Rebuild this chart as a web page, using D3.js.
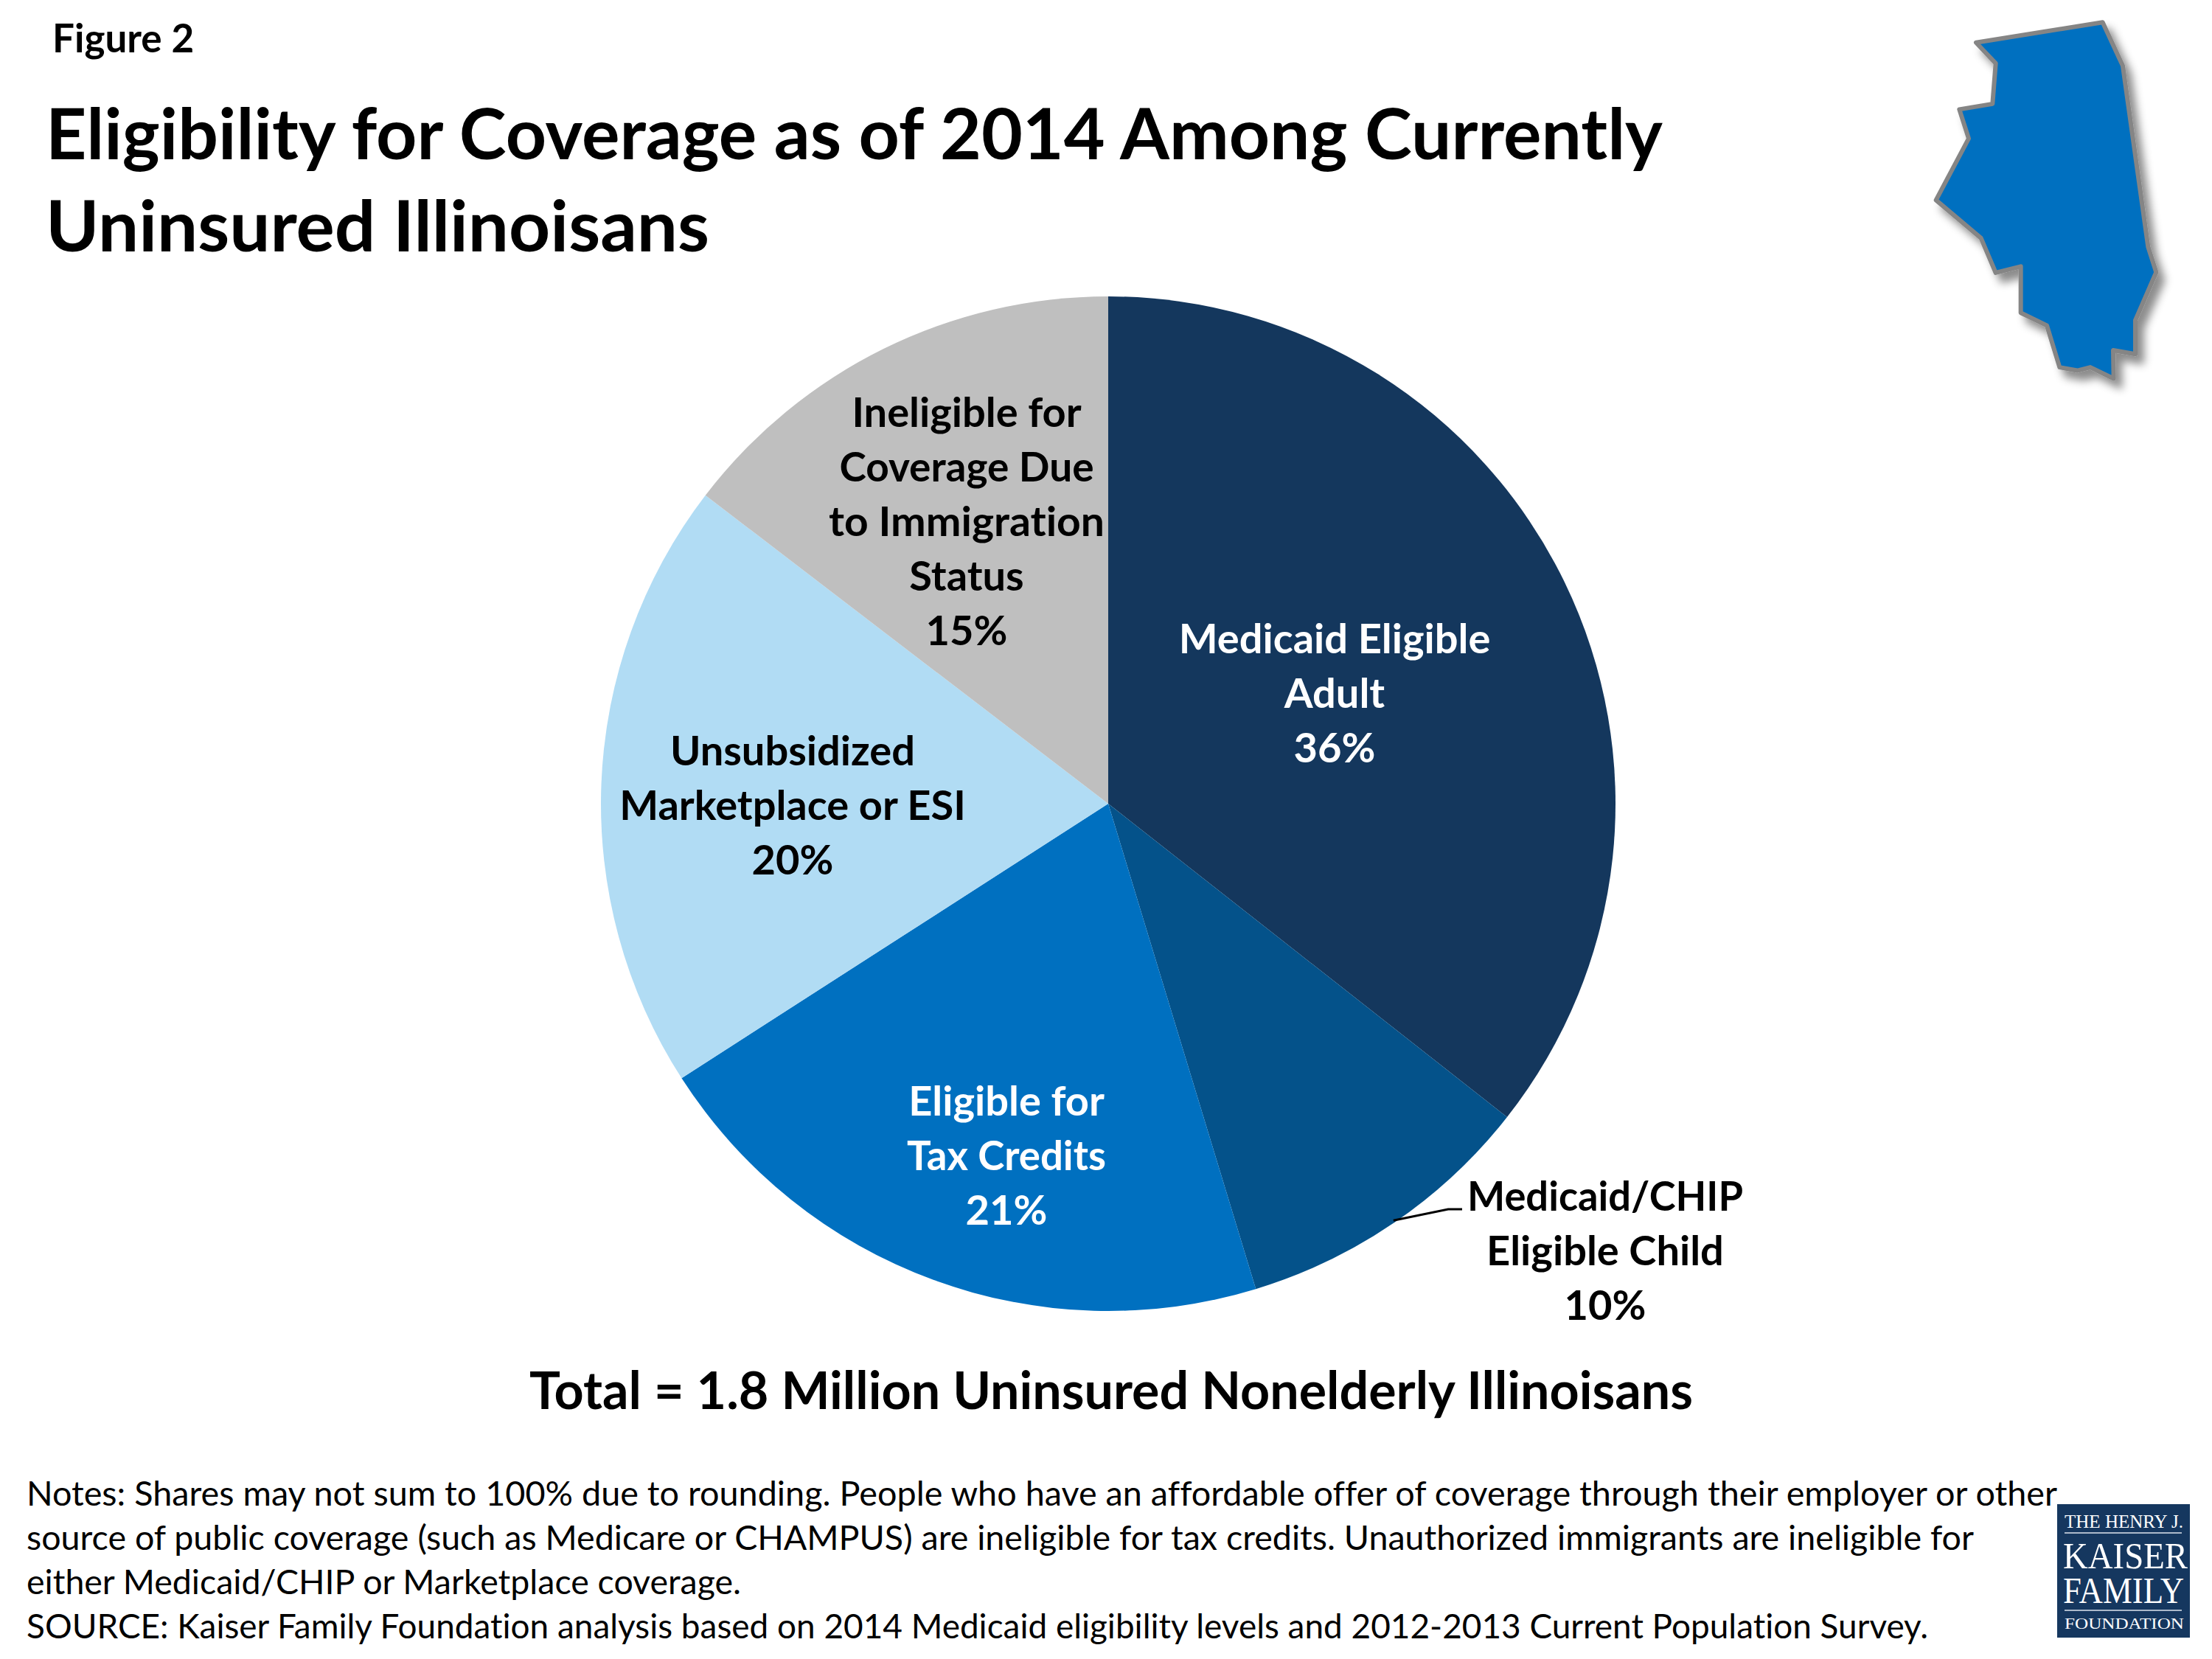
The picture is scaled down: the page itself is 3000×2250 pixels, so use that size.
<!DOCTYPE html>
<html>
<head>
<meta charset="utf-8">
<script src="https://cdn.jsdelivr.net/npm/d3@7"></script>
<style>
  html, body { margin: 0; padding: 0; background: #fff; }
  svg { display: block; }
  text { font-family: Lato, Carlito, sans-serif; fill: #000; font-variant-ligatures: none; }
</style>
</head>
<body>
<div id="chart"></div>
<script>
const categories = [
    "Medicaid Eligible Adult", "Medicaid/CHIP Eligible Child", "Eligible for Tax Credits",
    "Unsubsidized Marketplace or ESI", "Ineligible for Coverage Due to Immigration Status"
];
// the labels show them rounded
const shares = [35.6, 9.7, 20.6, 19.5, 14.6];
const sliceColors = ["#14375d", "#04528a", "#0070c0", "#b1dcf4", "#bfbfbf"];

// label lines as they wrap in the slide, one list per slice
const labelLines = [
    ["Medicaid Eligible", "Adult"],
    ["Medicaid/CHIP", "Eligible Child"],
    ["Eligible for", "Tax Credits"],
    ["Unsubsidized", "Marketplace or ESI"],
    ["Ineligible for", "Coverage Due", "to Immigration", "Status"]
];
const labelX = [1810, 2177, 1365, 1075, 1311];
const labelY = [886, 1642, 1513, 1038, 579];
const labelFill = ["#fff", "#000", "#fff", "#000", "#000"];
// Lato runs a little wide or narrow on these, fit them to the slide
const lineFit = { "Medicaid/CHIP": 374, "Tax Credits": 270, "Coverage Due": 345, "to Immigration": 374 };

const titleLines = ["Eligibility for Coverage as of 2014 Among Currently", "Uninsured Illinoisans"];
const titleWidths = [2193, 900];
const totalText = "Total = 1.8 Million Uninsured Nonelderly Illinoisans";
const noteLines = [
    "Notes: Shares may not sum to 100% due to rounding. People who have an affordable offer of coverage through their employer or other",
    "source of public coverage (such as Medicare or CHAMPUS) are ineligible for tax credits. Unauthorized immigrants are ineligible for",
    "either Medicaid/CHIP or Marketplace coverage.",
    "SOURCE: Kaiser Family Foundation analysis based on 2014 Medicaid eligibility levels and 2012-2013 Current Population Survey."
];
const noteWidths = [2754, 2641, 969, 2579];

// state outline, in the pixels of a crop of the top right corner
const stateOutline = [
    [300, 168], [815, 88], [897, 260], [1000, 975], [1033, 1075], [948, 1265], [948, 1398],
    [858, 1383], [860, 1495], [765, 1450], [712, 1463], [640, 1450], [588, 1285], [482, 1235],
    [482, 1052], [380, 1077], [320, 940], [137, 790], [270, 547], [232, 432], [367, 410], [380, 250]
];

const width = 3000, height = 2250;
const cx = 1503, cy = 1090, radius = 688;

const svg = d3.select("#chart").append("svg")
    .attr("width", width)
    .attr("height", height)
    .attr("viewBox", `0 0 ${width} ${height}`);

const defs = svg.append("defs");
const shadow = defs.append("filter").attr("id", "state-shadow")
    .attr("x", "-20%").attr("y", "-20%").attr("width", "140%").attr("height", "140%");
shadow.append("feDropShadow")
    .attr("dx", 9).attr("dy", 11).attr("stdDeviation", 6)
    .attr("flood-color", "#000").attr("flood-opacity", 0.45);

svg.append("rect").attr("width", width).attr("height", height).attr("fill", "#fff");

// headings
svg.append("text").attr("x", 71).attr("y", 71)
    .attr("font-size", 53).attr("font-weight", 700).text("Figure 2");

svg.append("g").selectAll("text")
    .data(titleLines)
    .enter()
    .append("text")
    .attr("x", 62)
    .attr("y", (d, i) => 216 + i * 125)
    .attr("font-size", 96)
    .attr("font-weight", 700)
    .attr("textLength", (d, i) => titleWidths[i])
    .attr("lengthAdjust", "spacingAndGlyphs")
    .text(d => d);

// pie
const pie = d3.pie().sort(null).value(d => d)(shares);
const arc = d3.arc().innerRadius(0).outerRadius(radius);
const plot = svg.append("g").attr("transform", `translate(${cx},${cy})`);

plot.selectAll("path")
    .data(pie)
    .enter()
    .append("path")
    .attr("d", arc)
    .attr("data-category", (d, i) => categories[i])
    .attr("fill", (d, i) => sliceColors[i]);

// leader for the child slice, starts on the rim
const rim = d3.arc().innerRadius(radius - 3).outerRadius(radius - 3).centroid(pie[1]);
const leader = d3.line()([
    [cx + rim[0], cy + rim[1]],
    [1964, 1640],
    [1983, 1640]
]);
svg.append("path").attr("d", leader)
    .attr("fill", "none").attr("stroke", "#000").attr("stroke-width", 3);

// slice labels
const labels = svg.append("g").selectAll("text")
    .data(labelLines)
    .enter()
    .append("text")
    .attr("text-anchor", "middle")
    .attr("font-size", 56)
    .attr("font-weight", 700)
    .style("fill", (d, i) => labelFill[i]);

labels.each(function (lines, i) {
    const rows = lines.concat(`${Math.round(shares[i])}%`);
    d3.select(this).selectAll("tspan")
        .data(rows)
        .enter()
        .append("tspan")
        .attr("x", labelX[i])
        .attr("y", (d, j) => labelY[i] + j * 74)
        .attr("textLength", d => lineFit[d] || null)
        .attr("lengthAdjust", d => lineFit[d] ? "spacingAndGlyphs" : null)
        .text(d => d);
});

// total line
svg.append("text").attr("x", 1507).attr("y", 1911)
    .attr("text-anchor", "middle")
    .attr("font-size", 70)
    .attr("font-weight", 700)
    .text(totalText);

// notes
svg.append("g").selectAll("text")
    .data(noteLines)
    .enter()
    .append("text")
    .attr("x", 36)
    .attr("y", (d, i) => 2042 + i * 60)
    .attr("font-size", 46.6)
    .attr("textLength", (d, i) => noteWidths[i])
    .attr("lengthAdjust", "spacingAndGlyphs")
    .text(d => d);

// state shape, top right
const stateX = d3.scaleLinear().domain([0, 1260]).range([2580, 3000]);
const stateY = d3.scaleLinear().domain([0, 1572]).range([0, 540]);
const stateLine = d3.line().x(d => stateX(d[0])).y(d => stateY(d[1])).curve(d3.curveLinearClosed);
svg.append("path")
    .datum(stateOutline)
    .attr("d", stateLine)
    .attr("fill", "#0070c0")
    .attr("stroke", "#858585")
    .attr("stroke-width", 6)
    .attr("stroke-linejoin", "round")
    .attr("filter", "url(#state-shadow)");

// foundation logo
const logo = svg.append("g");
logo.append("rect").attr("x", 2790).attr("y", 2040).attr("width", 180).attr("height", 181).attr("fill", "#15375f");
logo.selectAll("line")
    .data([2079, 2184])
    .enter()
    .append("line")
    .attr("x1", 2800).attr("x2", 2959)
    .attr("y1", d => d).attr("y2", d => d)
    .attr("stroke", "#dfe6ee").attr("stroke-width", 1.5);

const logoLines = ["THE HENRY J.", "KAISER", "FAMILY", "FOUNDATION"];
const logoBase = [2072, 2127, 2174, 2209];
const logoSize = [25, 51, 51, 22];
const logoWidth = [161, 169, 164, 162];
logo.selectAll("text")
    .data(logoLines)
    .enter()
    .append("text")
    .attr("x", (d, i) => i === 1 || i === 2 ? 2798 : 2800)
    .attr("y", (d, i) => logoBase[i])
    .attr("font-size", (d, i) => logoSize[i])
    .attr("textLength", (d, i) => logoWidth[i])
    .attr("lengthAdjust", "spacingAndGlyphs")
    .style("font-family", "'Liberation Serif', serif")
    .style("fill", "#fff")
    .text(d => d);
</script>
</body>
</html>
